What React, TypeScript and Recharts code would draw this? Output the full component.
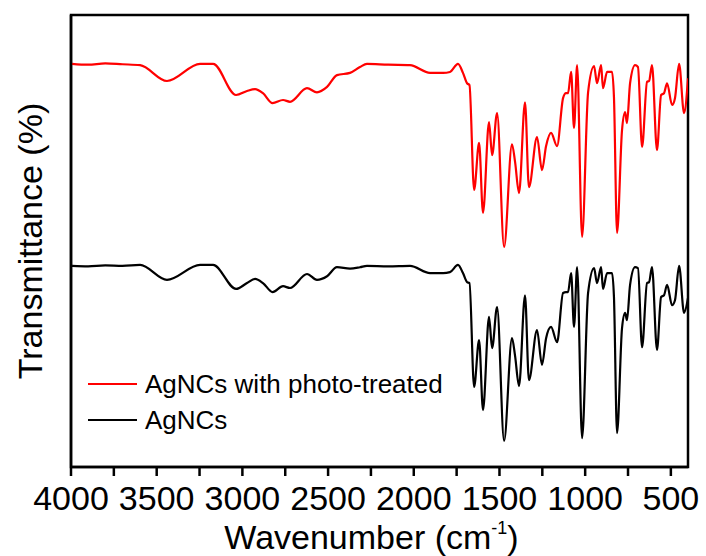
import React from 'react';
import { LineChart, Line, XAxis, YAxis, Legend, ReferenceArea } from 'recharts';

// FTIR spectra, transmittance in arbitrary units (curves are offset)
const wavenumbers = [
  3994, 3900, 3800, 3700, 3597, 3440, 3247, 3171, 3037, 2973, 2926, 2880, 2824, 2763, 2722,
  2623, 2565, 2506, 2448, 2372, 2314, 2273, 2150, 2022, 1905, 1829, 1789, 1742, 1713, 1689,
  1675, 1648, 1619, 1596, 1561, 1543, 1514, 1473, 1427, 1409, 1386, 1351, 1328, 1281, 1252,
  1228, 1199, 1164, 1129, 1112, 1100, 1082, 1065, 1047, 1018, 983, 948, 931, 907, 896,
  872, 843, 832, 814, 785, 767, 756, 738, 709, 692, 668, 639, 627, 610, 581,
  557, 540, 522, 493, 476, 452, 423, 400,
];

const photoTreated = [
  89.2, 89.0, 89.3, 89.1, 88.9, 85.4, 89.2, 89.2, 82.3, 83.2, 83.6, 82.7, 80.5, 81.2, 80.8,
  83.8, 82.9, 84.1, 86.7, 87.2, 88.5, 89.2, 89.0, 88.9, 87.2, 87.2, 87.4, 89.2, 87.2, 84.9,
  84.5, 61.3, 71.7, 56.2, 76.3, 69.0, 78.3, 48.7, 71.4, 67.5, 60.6, 80.7, 61.9, 73.0, 65.7,
  71.0, 73.9, 71.0, 81.6, 82.7, 82.7, 87.4, 75.0, 88.9, 50.9, 82.9, 88.7, 84.9, 88.9, 83.8,
  87.4, 87.4, 81.8, 51.8, 74.5, 78.5, 76.1, 84.9, 88.9, 88.5, 70.8, 85.2, 85.4, 88.9, 70.1,
  82.3, 82.7, 84.9, 80.1, 81.6, 89.2, 78.3, 86.0,
];

const agNCs = [
  44.5, 44.4, 44.6, 44.5, 44.7, 41.4, 44.7, 44.7, 39.4, 40.7, 41.6, 40.7, 38.7, 40.0, 39.6,
  42.7, 41.4, 42.2, 44.2, 43.9, 44.2, 44.5, 44.4, 44.5, 42.9, 42.9, 43.1, 44.7, 42.9, 40.9,
  40.7, 17.7, 28.1, 12.6, 33.2, 26.3, 35.4, 5.8, 28.5, 24.6, 17.9, 38.0, 19.2, 30.3, 22.6,
  28.5, 31.0, 27.6, 38.5, 38.7, 38.7, 42.9, 31.0, 44.2, 6.4, 38.5, 44.0, 40.7, 44.2, 39.4,
  42.9, 42.9, 37.6, 7.5, 30.7, 34.1, 32.5, 40.3, 44.2, 44.0, 26.5, 40.7, 40.9, 44.2, 25.9,
  37.6, 38.0, 40.3, 35.8, 36.9, 44.5, 34.1, 37.4,
];

const xTicks = [4000, 3750, 3500, 3250, 3000, 2750, 2500, 2250, 2000, 1750, 1500, 1250, 1000, 750, 500];
const seriesOrder = ['treated', 'plain'];

const data = wavenumbers.map((wn, i) => ({ wn, treated: photoTreated[i], plain: agNCs[i] }));

const FONT = 'Liberation Sans, Arial, sans-serif';

const LegendBox = ({ payload }: any) => {
  const items = [...(payload || [])].sort(
    (a: any, b: any) => seriesOrder.indexOf(a.dataKey) - seriesOrder.indexOf(b.dataKey)
  );
  return (
    <div style={{ fontFamily: FONT, fontSize: 26, color: '#000', whiteSpace: 'nowrap' }}>
      {items.map((p: any) => (
        <div key={p.value} style={{ display: 'flex', alignItems: 'center', height: 36 }}>
          <svg width={49} height={4} style={{ marginRight: 8 }}>
            <line x1={0} y1={2} x2={49} y2={2} stroke={p.color} strokeWidth={2} />
          </svg>
          <span>{p.value}</span>
        </div>
      ))}
    </div>
  );
};

const XTitle = ({ viewBox }: any) => {
  const cx = viewBox.x + viewBox.width / 2 - 8;
  return (
    <text x={cx} y={549} textAnchor="middle" fontFamily={FONT} fontSize={34} fill="#000">
      <tspan>Wavenumber (cm</tspan>
      <tspan fontSize={18} dy={-15}>-1</tspan>
      <tspan dy={15}>)</tspan>
    </text>
  );
};

export default function App() {
  return (
    <div style={{ position: 'absolute', left: 0, top: 0, width: 706, height: 556, background: '#fff' }}>
      <LineChart width={706} height={556} data={data} margin={{ top: 15, right: 18, bottom: 29, left: 0 }}>
        <XAxis
          dataKey="wn"
          type="number"
          domain={[400, 4000]}
          reversed
          allowDataOverflow
          ticks={xTicks}
          interval={0}
          tickFormatter={(v: number) => (v % 500 === 0 ? String(v) : '')}
          tickSize={9}
          tickMargin={10}
          height={60}
          stroke="#000"
          strokeWidth={2.5}
          tick={{ fill: '#000', fontSize: 34, fontFamily: FONT }}
          label={{ content: <XTitle /> }}
        />
        <YAxis
          domain={[0, 100]}
          width={71}
          tick={false}
          tickLine={false}
          axisLine={{ stroke: '#000', strokeWidth: 2.5 }}
          label={{
            value: 'Transmittance (%)',
            angle: -90,
            position: 'center',
            dx: -6,
            style: { fill: '#000', fontSize: 34, fontFamily: FONT, textAnchor: 'middle' },
          }}
        />
        <ReferenceArea x1={4000} x2={400} y1={0} y2={100} fill="none" stroke="#000" strokeWidth={2.5} ifOverflow="visible" />
        <Line
          type="monotone"
          dataKey="treated"
          name="AgNCs with photo-treated"
          stroke="#ff0000"
          strokeWidth={2.2}
          dot={false}
          isAnimationActive={false}
        />
        <Line
          type="monotone"
          dataKey="plain"
          name="AgNCs"
          stroke="#000000"
          strokeWidth={2.2}
          dot={false}
          isAnimationActive={false}
        />
        <Legend
          layout="vertical"
          verticalAlign="middle"
          align="center"
          content={<LegendBox />}
          wrapperStyle={{ position: 'absolute', left: 88, top: 366, width: 400 }}
        />
      </LineChart>
    </div>
  );
}
